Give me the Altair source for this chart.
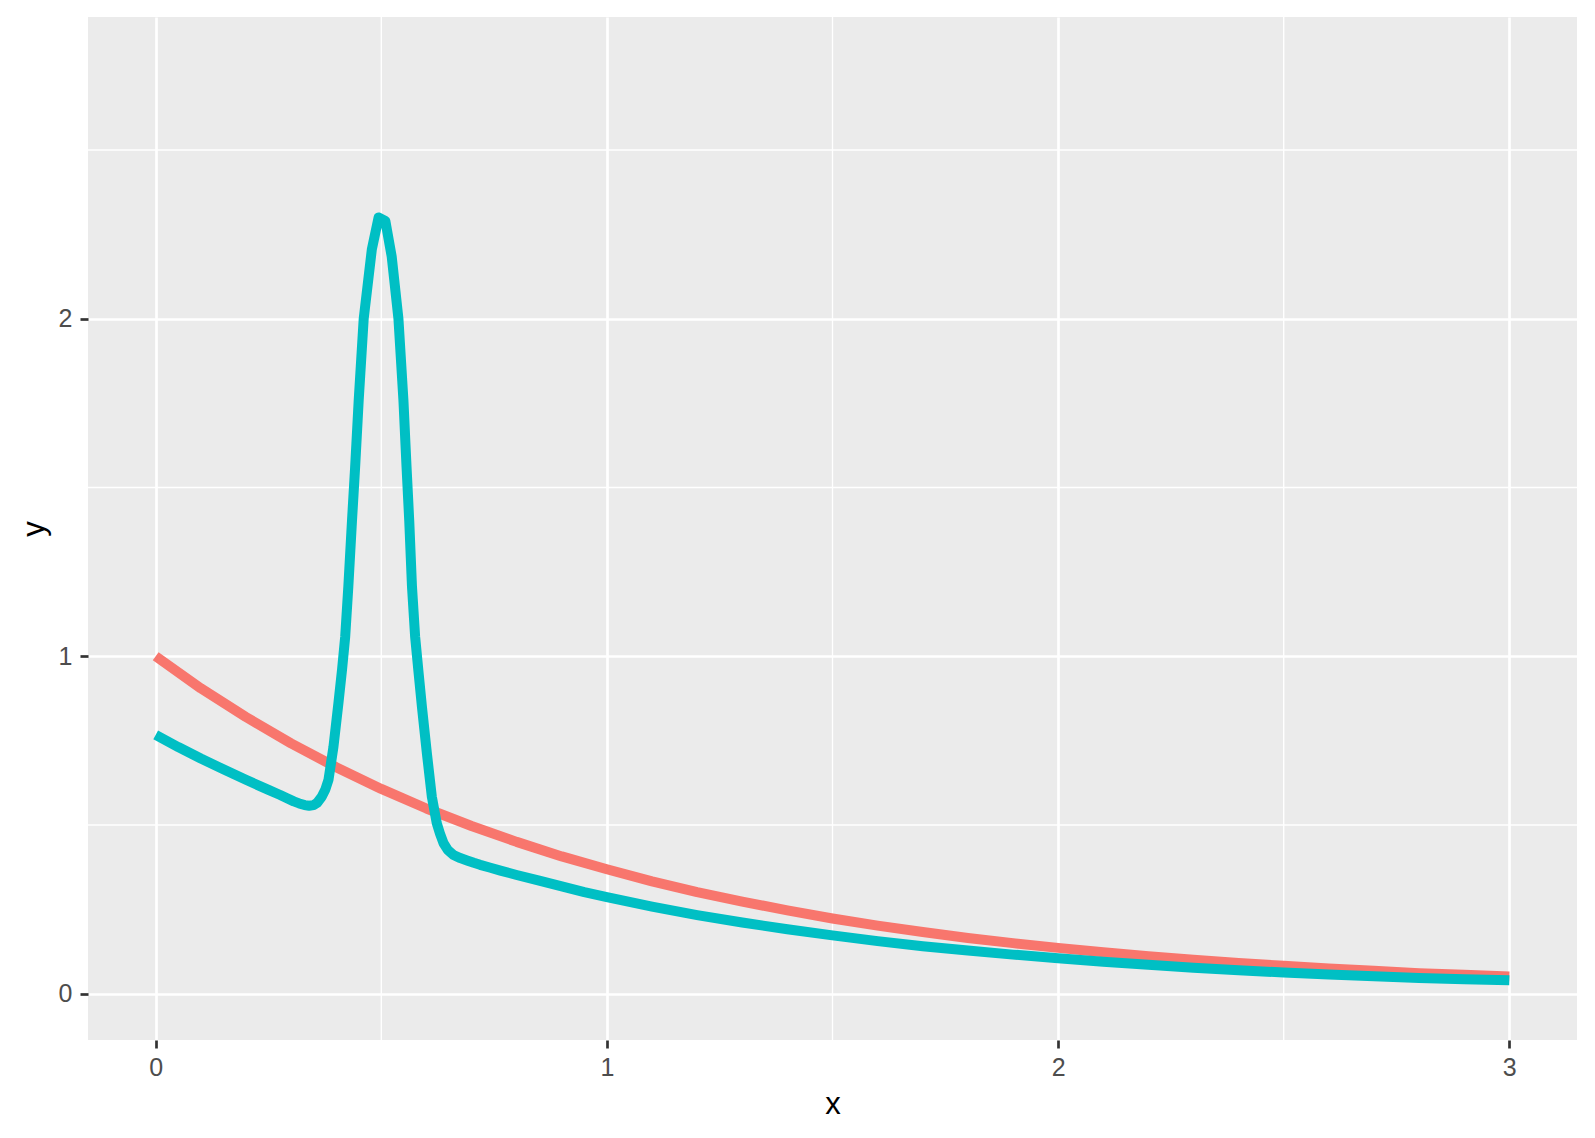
import altair as alt
import pandas as pd

# Values
red_x = [0.0, 0.1, 0.2, 0.3, 0.4, 0.5, 0.6, 0.7, 0.8, 0.9, 1.0,
         1.1, 1.2, 1.3, 1.4, 1.5, 1.6, 1.7, 1.8, 1.9, 2.0,
         2.1, 2.2, 2.3, 2.4, 2.5, 2.6, 2.7, 2.8, 2.9, 3.0]
red_y = [1.0, 0.905, 0.82, 0.742, 0.671, 0.607, 0.549, 0.497, 0.450, 0.407, 0.369,
         0.333, 0.301, 0.273, 0.247, 0.223, 0.202, 0.183, 0.165, 0.150, 0.136,
         0.123, 0.111, 0.101, 0.091, 0.083, 0.075, 0.068, 0.061, 0.056, 0.051]

teal_x = [0.00, 0.05, 0.10, 0.15, 0.20, 0.25, 0.276, 0.29, 0.306, 0.318, 0.33,
          0.34, 0.35, 0.358, 0.368, 0.376, 0.383, 0.394, 0.405, 0.413, 0.420,
          0.427, 0.435, 0.442, 0.450, 0.461, 0.479, 0.494, 0.509, 0.523, 0.538,
          0.549, 0.556, 0.562, 0.568, 0.575, 0.582, 0.590, 0.601, 0.612, 0.623,
          0.630, 0.638, 0.648, 0.660, 0.675, 0.690, 0.705, 0.719, 0.740, 0.764,
          0.80, 0.85, 0.90, 0.95, 1.00, 1.10, 1.20, 1.30, 1.40, 1.50,
          1.60, 1.70, 1.80, 1.90, 2.00, 2.10, 2.20, 2.30, 2.40, 2.50,
          2.60, 2.70, 2.80, 2.90, 3.00]
teal_y = [0.767, 0.731, 0.697, 0.665, 0.634, 0.604, 0.589, 0.580, 0.570, 0.564, 0.559,
          0.557, 0.559, 0.566, 0.584, 0.605, 0.634, 0.732, 0.861, 0.960, 1.058,
          1.207, 1.40, 1.56, 1.76, 2.00, 2.205, 2.30, 2.29, 2.185, 2.00,
          1.76, 1.56, 1.40, 1.207, 1.058, 0.960, 0.851, 0.713, 0.584, 0.505,
          0.475, 0.446, 0.425, 0.411, 0.402, 0.395, 0.388, 0.382, 0.374, 0.365,
          0.352, 0.335, 0.318, 0.301, 0.286, 0.258, 0.233, 0.211, 0.191, 0.173,
          0.156, 0.141, 0.128, 0.116, 0.105, 0.095, 0.086, 0.077, 0.070, 0.063,
          0.057, 0.052, 0.047, 0.043, 0.040]

x_breaks = [0, 1, 2, 3]
y_breaks = [0, 1, 2]
x_minor = [0.5, 1.5, 2.5]
y_minor = [0.5, 1.5, 2.5]
x_domain = [-0.15, 3.15]
y_domain = [-0.137, 2.894]

red = pd.DataFrame({"x": red_x, "y": red_y})
teal = pd.DataFrame({"x": teal_x, "y": teal_y})
xm = pd.DataFrame({"x": x_minor})
ym = pd.DataFrame({"y": y_minor})

FONT = "Liberation Sans"
xs = alt.Scale(domain=x_domain, nice=False, zero=False)
ys = alt.Scale(domain=y_domain, nice=False, zero=False)
common = dict(grid=True, gridColor="white", gridWidth=2.7, domain=False,
              tickColor="#333333", tickWidth=2.7, tickSize=8,
              labelFont=FONT, labelFontSize=25, labelColor="#4D4D4D",
              titleFont=FONT, titleFontSize=31, titleFontWeight="normal",
              titleColor="black")
xa = alt.Axis(values=x_breaks, title="x", labelPadding=7, titlePadding=9, **common)
ya = alt.Axis(values=y_breaks, title="y", labelPadding=8, titlePadding=8, **common)

X = alt.X("x:Q", scale=xs, axis=xa)
Y = alt.Y("y:Q", scale=ys, axis=ya)

minor_x = alt.Chart(xm).mark_rule(color="white", strokeWidth=1.35).encode(x=X)
minor_y = alt.Chart(ym).mark_rule(color="white", strokeWidth=1.35).encode(y=Y)

line_red = alt.Chart(red).mark_line(color="#F8766D", strokeWidth=10,
                                    strokeJoin="round", strokeCap="butt").encode(x=X, y=Y)
line_teal = alt.Chart(teal).mark_line(color="#00BFC4", strokeWidth=10,
                                      strokeJoin="round", strokeCap="butt").encode(x=X, y=Y)

chart = alt.layer(minor_x, minor_y, line_red, line_teal).properties(
    width=1489, height=1023,
    autosize=alt.AutoSizeParams(type="none"),
    padding={"left": 80, "top": 9, "right": 5, "bottom": 80},
    background="white",
).configure_view(fill="#EBEBEB", strokeWidth=0)

chart.save("out.html", embed_options={"renderer": "svg", "actions": False})
